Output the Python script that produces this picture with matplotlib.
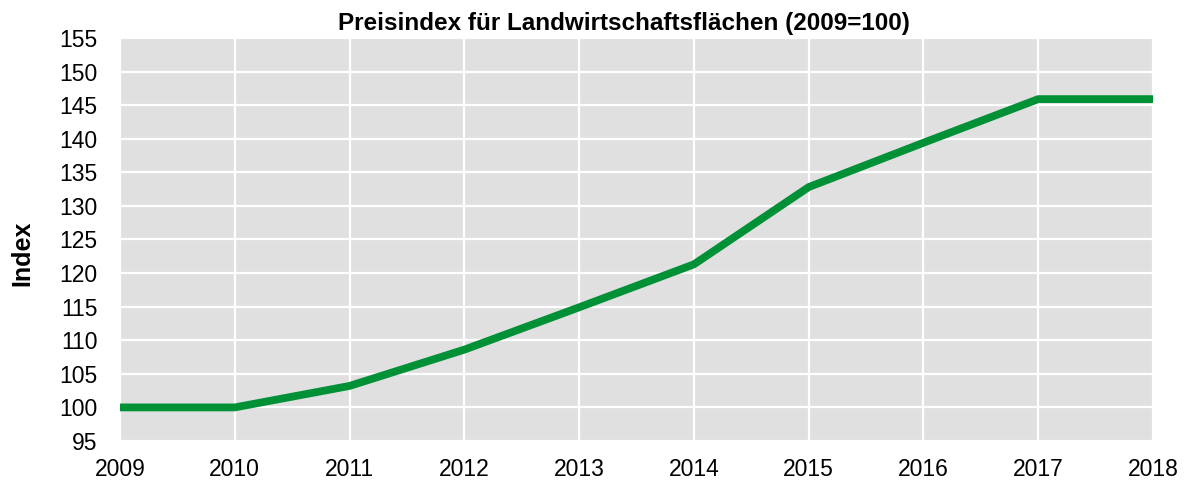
import matplotlib.pyplot as plt

# Preisindex values (2009 = 100)
years = [2009, 2010, 2011, 2012, 2013, 2014, 2015, 2016, 2017, 2018]
index_values = [100.0, 100.0, 103.2, 108.6, 114.9, 121.3, 132.8, 139.4, 145.9, 145.9]
y_ticks = list(range(95, 160, 5))

plt.rcParams['font.family'] = ['Liberation Sans', 'DejaVu Sans']

fig = plt.figure(figsize=(11.9, 4.86), dpi=100)
ax = fig.add_axes([120 / 1190, 1 - 441 / 486, 1033 / 1190, 403 / 486])

ax.set_facecolor('#e0e0e0')
ax.plot(years, index_values, color='#009036', linewidth=5.6, solid_capstyle='butt', zorder=3)

ax.set_xlim(2009, 2018)
ax.set_ylim(95, 155)
ax.set_xticks(years)
ax.set_yticks(y_ticks)
ax.tick_params(length=0, labelsize=16.5, colors='black')
ax.tick_params(axis='x', pad=12)
ax.tick_params(axis='y', pad=16)
ax.grid(True, color='white', linewidth=1.6)
ax.set_axisbelow(True)
for spine in ax.spines.values():
    spine.set_visible(False)

fig.text(624 / 1190, 1 - 30 / 486, 'Preisindex für Landwirtschaftsflächen (2009=100)',
         ha='center', va='baseline', fontsize=17.5, fontweight='bold')
fig.text(22 / 1190, 1 - 253 / 486, 'Index', ha='center', va='center',
         rotation=90, fontsize=18, fontweight='bold')

plt.savefig('out.png', dpi=100)
plt.close()
